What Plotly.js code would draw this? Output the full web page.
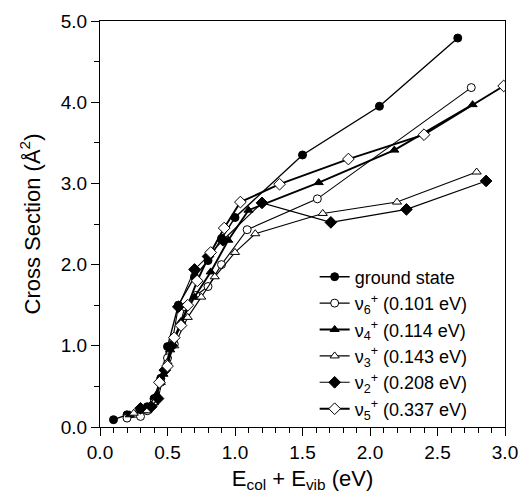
<!DOCTYPE html>
<html>
<head>
<meta charset="utf-8">
<script src="https://cdn.plot.ly/plotly-3.0.1.min.js"></script>
<style>html,body{margin:0;padding:0;background:#fff;}#chart{width:522px;height:500px;}</style>
</head>
<body>
<div id="chart"></div>
<script>
// Series names
const seriesNames = [
  "ground state",
  "ν<sub>6</sub><sup>+</sup> (0.101 eV)",
  "ν<sub>4</sub><sup>+</sup> (0.114 eV)",
  "ν<sub>3</sub><sup>+</sup> (0.143 eV)",
  "ν<sub>2</sub><sup>+</sup> (0.208 eV)",
  "ν<sub>5</sub><sup>+</sup> (0.337 eV)"
];

// ground state
const xGround = [0.10, 0.20, 0.30, 0.35, 0.40, 0.45, 0.50, 0.58, 0.70, 0.80, 0.90, 1.00, 1.50, 2.07, 2.65];
const yGround = [0.09, 0.15, 0.22, 0.25, 0.35, 0.60, 0.99, 1.50, 1.85, 2.05, 2.32, 2.58, 3.35, 3.95, 4.79];
// nu6+
const xNu6 = [0.20, 0.30, 0.35, 0.40, 0.45, 0.50, 0.55, 0.63, 0.71, 0.80, 0.90, 1.09, 1.61, 2.75];
const yNu6 = [0.11, 0.13, 0.20, 0.30, 0.55, 0.85, 1.02, 1.48, 1.62, 1.73, 2.00, 2.43, 2.81, 4.18];
// nu4+
const xNu4 = [0.22, 0.32, 0.37, 0.42, 0.47, 0.52, 0.60, 0.70, 0.82, 0.95, 1.10, 1.62, 2.18, 2.76];
const yNu4 = [0.15, 0.20, 0.25, 0.40, 0.65, 0.95, 1.30, 1.60, 1.91, 2.30, 2.67, 3.01, 3.41, 3.97];
// nu3+
const xNu3 = [0.25, 0.35, 0.40, 0.45, 0.50, 0.55, 0.65, 0.75, 0.85, 1.00, 1.15, 1.65, 2.20, 2.79];
const yNu3 = [0.17, 0.20, 0.30, 0.55, 0.80, 1.00, 1.35, 1.60, 1.85, 2.15, 2.38, 2.63, 2.77, 3.14];
// nu2+
const xNu2 = [0.30, 0.38, 0.43, 0.48, 0.53, 0.58, 0.70, 0.80, 0.91, 1.20, 1.71, 2.27, 2.86];
const yNu2 = [0.23, 0.25, 0.35, 0.70, 1.00, 1.48, 1.94, 2.10, 2.30, 2.76, 2.52, 2.68, 3.03];
// nu5+
const xNu5 = [0.44, 0.50, 0.55, 0.60, 0.65, 0.72, 0.82, 0.92, 1.04, 1.33, 1.84, 2.40, 2.99];
const yNu5 = [0.55, 0.75, 1.10, 1.25, 1.50, 1.80, 2.15, 2.45, 2.77, 2.99, 3.30, 3.60, 4.20];

const xTickVals = [0, 0.5, 1.0, 1.5, 2.0, 2.5, 3.0];
const xTickText = ["0.0", "0.5", "1.0", "1.5", "2.0", "2.5", "3.0"];
const yTickVals = [0, 1, 2, 3, 4, 5];
const yTickText = ["0.0", "1.0", "2.0", "3.0", "4.0", "5.0"];

const xs = [xGround, xNu6, xNu4, xNu3, xNu2, xNu5];
const ys = [yGround, yNu6, yNu4, yNu3, yNu2, yNu5];
const symbols = ["circle", "circle", "triangle-up", "triangle-up", "diamond", "diamond"];
const fills = ["#000", "#fff", "#000", "#fff", "#000", "#fff"];
const widths = [1.4, 1.1, 1.9, 1.1, 1.1, 1.9];
const sizes = [8, 8, 8, 8, 9, 9];

const traces = xs.map((x, i) => ({
  x: x, y: ys[i], name: seriesNames[i], type: "scatter", mode: "lines+markers",
  line: {color: "#000", width: widths[i]},
  marker: {symbol: symbols[i], size: sizes[i], color: fills[i], line: {color: "#000", width: 1}}
}));

const fontFam = "Liberation Sans, Arial, sans-serif";
const layout = {
  width: 522, height: 500,
  margin: {l: 100, r: 17, t: 21, b: 73},
  paper_bgcolor: "#fff", plot_bgcolor: "#fff",
  font: {family: fontFam, size: 19, color: "#000"},
  showlegend: true,
  legend: {x: 0.53, y: 0.415, xanchor: "left", yanchor: "top", bgcolor: "rgba(0,0,0,0)",
           font: {family: fontFam, size: 18, color: "#000"}, tracegroupgap: 0, itemwidth: 30},
  xaxis: {
    range: [0, 3], tickvals: xTickVals, ticktext: xTickText,
    ticks: "outside", ticklen: 8, tickwidth: 1, tickcolor: "#000",
    minor: {dtick: 0.1, ticks: "outside", ticklen: 5, tickcolor: "#000", tickwidth: 1, showgrid: false},
    showline: true, linecolor: "#000", linewidth: 1, mirror: true,
    showgrid: false, zeroline: false,
    tickfont: {family: fontFam, size: 19, color: "#000"},
    title: {text: "E<sub>col</sub> + E<sub>vib</sub> (eV)", font: {family: fontFam, size: 22, color: "#000"}, standoff: 8}
  },
  yaxis: {
    range: [0, 5], tickvals: yTickVals, ticktext: yTickText,
    ticks: "outside", ticklen: 8, tickwidth: 1, tickcolor: "#000",
    minor: {dtick: 0.5, ticks: "outside", ticklen: 5, tickcolor: "#000", tickwidth: 1, showgrid: false},
    showline: true, linecolor: "#000", linewidth: 1, mirror: true,
    showgrid: false, zeroline: false,
    tickfont: {family: fontFam, size: 19, color: "#000"},
    title: {text: "Cross Section (Å<sup>2</sup>)", font: {family: fontFam, size: 22, color: "#000"}, standoff: 14}
  }
};

Plotly.newPlot("chart", traces, layout, {displayModeBar: false, staticPlot: true});
</script>
</body>
</html>
